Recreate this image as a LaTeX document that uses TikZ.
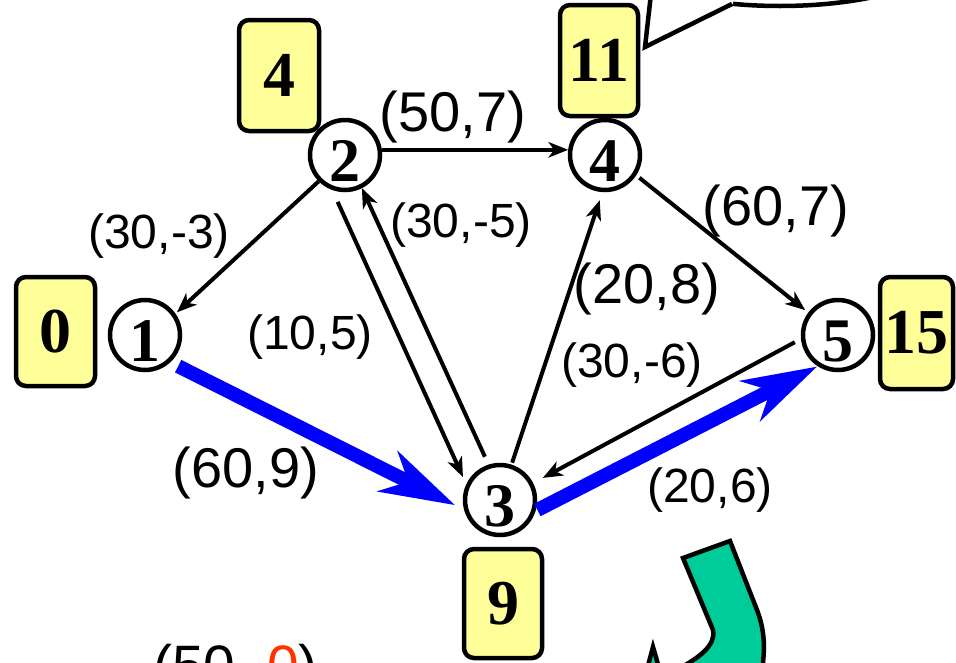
\documentclass[tikz,border=0pt]{standalone}
\usepackage{fontspec}
\setmainfont{Liberation Serif}
\newfontfamily\arialf{Liberation Sans}
\usetikzlibrary{arrows.meta}
\definecolor{boxyellow}{HTML}{FFFF99}
\definecolor{pathblue}{HTML}{0000FF}
\definecolor{turngreen}{HTML}{00CC99}
\definecolor{zerored}{HTML}{FF3300}
\begin{document}
\begin{tikzpicture}[x=1pt,y=-1pt,
  vertex/.style={circle, draw, line width=4.5pt, minimum size=70pt, inner sep=0pt,
    font=\fontsize{62}{62}\selectfont\bfseries, text height=53pt, text depth=0pt},
  valbox/.style={draw, line width=4.5pt, rounded corners=10pt, fill=boxyellow, inner sep=0pt,
    font=\fontsize{64}{64}\selectfont\bfseries},
  edge/.style={line width=4pt, -{Stealth[length=20pt,width=16pt,inset=6pt,line width=0pt]}},
  bluepath/.style={line width=14pt, draw=pathblue, -{Stealth[length=76pt,width=46pt,inset=24pt,line width=0pt]}},
  lbl/.style={font=\arialf\fontsize{48}{48}\selectfont, inner sep=0pt},
  biglbl/.style={font=\arialf\fontsize{56}{56}\selectfont, inner sep=0pt}]
\useasboundingbox (0,0) rectangle (956,662);
\clip (0,0) rectangle (956,662);

% callout
\draw[line width=4.5pt, fill=white] (780,-54) ellipse [x radius=177pt, y radius=60pt];
\fill[white] (652,-40) -- (645,47) -- (733,4) -- (733,-40) -- cycle;
\draw[line width=4.5pt, line join=miter] (652,-15) -- (645,47) -- (732,4);

% green turning arrow
\draw[line width=4.5pt, fill=turngreen] (683,558) -- (730,541) -- (757,610)
  .. controls (764,628) and (765,645) .. (763,662) -- (763,720) -- (680,720) -- (680,668)
  .. controls (700,657) and (716,645) .. (713,630) -- cycle;
\draw[line width=4.5pt, fill=turngreen] (653,647) -- (628,740) -- (680,740) -- cycle;

% vertices
\node[vertex] (n1) at (145,335) {1};
\node[vertex] (n2) at (345,155) {2};
\node[vertex] (n3) at (500,500) {3};
\node[vertex] (n4) at (605,155) {4};
\node[vertex] (n5) at (838,335) {5};

% value boxes
\node[valbox, minimum width=79pt, minimum height=109pt] (b0) at (55.5,331.5) {0};
\node[valbox, minimum width=80pt, minimum height=111pt] (b4) at (279,75.5) {4};
\node[valbox, minimum width=78pt, minimum height=111pt] (b11) at (599,60.5) {11};
\node[valbox, minimum width=73pt, minimum height=112pt] (b15) at (916.5,333) {15};
\node[valbox, minimum width=78pt, minimum height=109pt] (b9) at (503,603.5) {9};

% edges
\draw[edge, shorten >=2pt] (n2.225) -- (n1.35);
\draw[edge] (n2.8) -- (n4.172);
\draw[edge, shorten <=13pt, shorten >=8pt] (n2.250) -- (n3.155);
\draw[edge, shorten <=8.6pt] (n3.108) -- (n2.297);
\draw[edge, shorten <=2pt, shorten >=8.5pt] (n3.72) -- (n4.266);
\draw[edge, shorten <=4pt, shorten >=4pt] (n4.-33) -- (n5.143);
\draw[edge, shorten <=7pt, shorten >=11pt] (n5.186) -- (n3.27);
\draw[bluepath, shorten <=8.7pt, shorten >=10.4pt] (n1.313) -- (n3.195);
\draw[bluepath, shorten <=2pt, shorten >=1pt] (n3.-17) -- (n5.237);

% labels
\node[lbl] (l21) at (159,236) {(30,-3)};
\node[biglbl] (l24) at (453,117) {(50,7)};
\node[lbl] (l23) at (310,337) {(10,5)};
\node[lbl] (l32) at (461,225) {(30,-5)};
\node[biglbl] (l45) at (776,211) {(60,7)};
\node[biglbl] (l34) at (647,289) {(20,8)};
\node[lbl] (l53) at (632,365) {(30,-6)};
\node[biglbl] (l13) at (246,473) {(60,9)};
\node[lbl] (l35) at (710,490) {(20,6)};

\node[anchor=base west, inner sep=0pt, font=\arialf\fontsize{57}{57}\selectfont] (pair) at (153,685) {(50, \textcolor{zerored}{0})};
\end{tikzpicture}
\end{document}
